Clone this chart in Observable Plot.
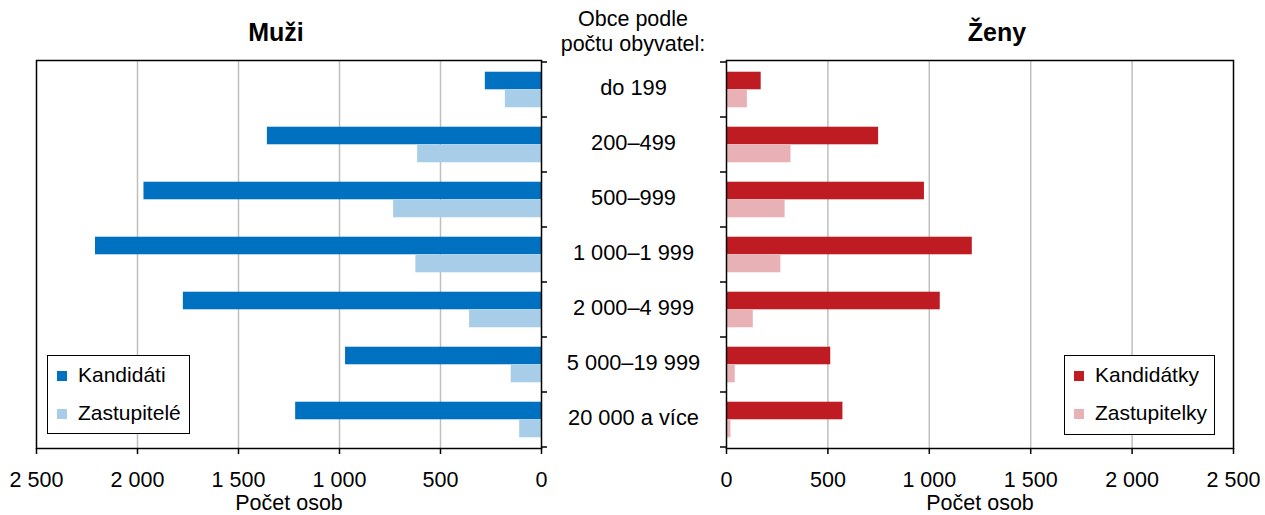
<!DOCTYPE html>
<html>
<head>
<meta charset="utf-8">
<script src="https://cdn.jsdelivr.net/npm/d3@7"></script>
<script src="https://cdn.jsdelivr.net/npm/@observablehq/plot@0.6"></script>
<style>
  html, body { margin: 0; padding: 0; background: #fff; }
  #chart { position: relative; width: 1265px; height: 515px; font-family: "Liberation Sans", Arial, sans-serif; color: #000; overflow: hidden; }
  #chart svg { position: absolute; top: 0; overflow: visible; }
  .hdr { position: absolute; left: 533px; width: 200px; top: 7px; text-align: center; font-size: 21.5px; line-height: 25px; }
  .legend { position: absolute; border: 1.5px solid #000; background: #fff; box-sizing: border-box; font-size: 21px; }
  .legend .item { position: absolute; white-space: nowrap; }
  .legend .sw { position: absolute; width: 9.5px; height: 9.5px; }
</style>
</head>
<body>
<div id="chart"></div>
<script>
// ---- data ----
const categories = ["do 199", "200–499", "500–999", "1 000–1 999", "2 000–4 999", "5 000–19 999", "20 000 a více"];
const kandidati   = [278, 1357, 1968, 2208, 1773, 970, 1217];
const zastupitele = [179, 613, 732, 622, 356, 150, 108];
const kandidatky   = [171, 750, 976, 1212, 1054, 514, 574];
const zastupitelky = [103, 318, 289, 268, 132, 43, 22];
const xTicks = [0, 500, 1000, 1500, 2000, 2500];
const gridTicks = [500, 1000, 1500, 2000];
const titles = {left: "Muži", right: "Ženy"};
const header = ["Obce podle", "počtu obyvatel:"];
const axisTitle = "Počet osob";
const legendLeft = ["Kandidáti", "Zastupitelé"];
const legendRight = ["Kandidátky", "Zastupitelky"];
const colors = {kandidati: "#0070c0", zastupitele: "#a7cde8", kandidatky: "#be1b22", zastupitelky: "#e8b1b5"};

const FONT = "Liberation Sans, Arial, sans-serif";
const fmt = d => String(d).replace(/\B(?=(\d{3})+(?!\d))/g, "\u00a0");
const rows = arr => categories.map((c, i) => ({cat: c, v: arr[i]}));

const H = 515, MT = 60, MB = 67;
const bw = (H - MT - MB) / categories.length;
const barH = 18, gap = (bw - 2 * barH) / 2;

function boundaryTicks(side) {
  return (index, scales, values, dims) => {
    const g = d3.create("svg:g").attr("stroke", "#000").attr("stroke-width", 1.5);
    const {width, height, marginTop, marginBottom, marginLeft, marginRight} = dims;
    const x0 = side === "right" ? width - marginRight : marginLeft;
    const dir = side === "right" ? 1 : -1;
    let ys;
    if (scales && scales.y && scales.y.bandwidth) {
      ys = categories.map(c => scales.y(c));
      ys.push(scales.y(categories[categories.length - 1]) + scales.y.bandwidth());
    } else {
      const step = (height - marginTop - marginBottom) / categories.length;
      ys = d3.range(categories.length + 1).map(i => marginTop + i * step);
    }
    for (const y of ys) g.append("line").attr("x1", x0).attr("x2", x0 + dir * 6).attr("y1", y).attr("y2", y);
    return g.node();
  };
}

function panel({left, width, mL, mR, reverse, dark, light, darkColor, lightColor, title, titleDx, side, labels}) {
  const marks = [
    Plot.ruleX(gridTicks, {stroke: "#bfbfbf", strokeWidth: 1.5}),
    Plot.barX(rows(dark), {y: "cat", x: "v", fill: darkColor, insetTop: gap, insetBottom: bw - gap - barH}),
    Plot.barX(rows(light), {y: "cat", x: "v", fill: lightColor, insetTop: gap + barH, insetBottom: gap}),
    Plot.frame({stroke: "#000", strokeWidth: 1.5}),
    Plot.axisX({ticks: xTicks, tickSize: 6, tickPadding: 17, tickFormat: fmt, fontSize: 21.5, label: null, stroke: "#000", strokeWidth: 1.5}),
    boundaryTicks(side),
    Plot.text([title], {text: d => d, frameAnchor: "top", dy: -28, dx: titleDx, lineAnchor: "middle", fontSize: 25, fontWeight: "bold"}),
    Plot.text([axisTitle], {text: d => d, frameAnchor: "bottom", dy: 55, lineAnchor: "middle", fontSize: 21.5})
  ];
  if (labels) marks.push(Plot.text(categories, {y: d => d, text: d => d, frameAnchor: "right", dx: 92, dy: -2, textAnchor: "middle", lineAnchor: "middle", fontSize: 21.8}));
  const svg = Plot.plot({
    width, height: H,
    marginTop: MT, marginBottom: MB, marginLeft: mL, marginRight: mR,
    style: {fontFamily: FONT, background: "transparent", overflow: "visible", color: "#000"},
    x: {domain: [0, 2500], reverse, axis: null},
    y: {type: "band", domain: categories, padding: 0, axis: null},
    marks
  });
  svg.style.left = left + "px";
  return svg;
}

const chart = document.getElementById("chart");
chart.append(panel({left: 0, width: 633, mL: 36, mR: 92, reverse: true, dark: kandidati, light: zastupitele,
  darkColor: colors.kandidati, lightColor: colors.zastupitele, title: titles.left, titleDx: -13, side: "right", labels: true}));
chart.append(panel({left: 633, width: 632, mL: 93, mR: 32, reverse: false, dark: kandidatky, light: zastupitelky,
  darkColor: colors.kandidatky, lightColor: colors.zastupitelky, title: titles.right, titleDx: 17, side: "left", labels: false}));

const hdr = document.createElement("div");
hdr.className = "hdr";
hdr.innerHTML = header.join("<br>");
chart.append(hdr);

function legend(x, y, w, h, names, cols) {
  const box = document.createElement("div");
  box.className = "legend";
  Object.assign(box.style, {left: x + "px", top: y + "px", width: w + "px", height: h + "px"});
  names.forEach((n, i) => {
    const sw = document.createElement("div");
    sw.className = "sw";
    Object.assign(sw.style, {left: "9px", top: (15 + i * 38) + "px", background: cols[i]});
    const t = document.createElement("div");
    t.className = "item";
    t.textContent = n;
    Object.assign(t.style, {left: "30px", top: (7 + i * 38) + "px"});
    box.append(sw, t);
  });
  chart.append(box);
}
legend(47, 355, 143, 79, legendLeft, [colors.kandidati, colors.zastupitele]);
legend(1064, 355, 151, 80, legendRight, [colors.kandidatky, colors.zastupitelky]);
</script>
</body>
</html>
